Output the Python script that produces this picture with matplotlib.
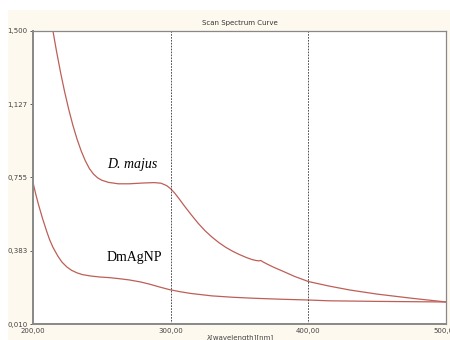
import matplotlib
matplotlib.use("Agg")
from matplotlib import pyplot as plt
from matplotlib.patches import Rectangle

# wavelength (nm) and absorbance
majus_nm = [214.5, 217, 220, 223, 226, 229, 232, 235, 238, 241, 244, 247,
            250, 255, 262, 270, 280, 288, 293, 297, 300, 303, 306, 310, 315, 320, 325, 330,
            335, 340, 345, 350, 355, 359, 362, 364, 365.5, 367, 370, 375, 380, 390, 400,
            415, 430, 450, 475, 500]
majus_abs = [1.50, 1.40, 1.29, 1.19, 1.10, 1.02, 0.95, 0.89, 0.84, 0.80, 0.772, 0.753,
             0.741, 0.73, 0.723, 0.723, 0.727, 0.729, 0.726, 0.714,
             0.698, 0.675, 0.648, 0.61, 0.565, 0.522, 0.484, 0.452, 0.424, 0.40, 0.38, 0.363,
             0.348, 0.338, 0.333, 0.331, 0.333, 0.326, 0.315, 0.298, 0.283, 0.252, 0.226,
             0.203, 0.183, 0.162, 0.141, 0.122]

agnp_nm = [200, 202, 204, 207, 210, 212, 214.5, 218, 221, 224.6, 228, 232, 236, 242, 248.5,
           255, 262, 270, 278, 285, 292, 299, 307, 315, 330, 345, 360, 380, 400, 415, 450, 500]
agnp_abs = [0.73, 0.67, 0.617, 0.545, 0.48, 0.44, 0.40, 0.356, 0.325, 0.30, 0.283, 0.27,
            0.261, 0.254, 0.249, 0.246, 0.241, 0.234, 0.224, 0.212, 0.198, 0.185, 0.174,
            0.165, 0.153, 0.146, 0.141, 0.136, 0.132, 0.128, 0.125, 0.122]

y_ticks = [0.010, 0.383, 0.755, 1.127, 1.500]
y_labels = ["0,010", "0,383", "0,755", "1,127", "1,500"]
x_ticks = [200, 300, 400, 500]
x_labels = ["200,00", "300,00", "400,00", "500,00"]

line_color = "#bd5f57"
bg_color = "#fdf9ee"

fig = plt.figure(figsize=(4.5, 3.4), dpi=100)
fig.patch.set_facecolor("white")
fig.patches.append(Rectangle((8 / 450, 0), 1, 1 - 10 / 340, transform=fig.transFigure,
                             facecolor=bg_color, edgecolor="none", zorder=-1))

ax = fig.add_axes([33 / 450, 16 / 340, 413 / 450, 293 / 340])
ax.set_facecolor("white")

ax.plot(majus_nm, majus_abs, color=line_color, linewidth=0.9)
ax.plot(agnp_nm, agnp_abs, color=line_color, linewidth=0.9)

for x in [300, 400]:
    ax.axvline(x, color="#333333", linewidth=0.6, linestyle=(0, (2, 1.5)))

ax.text(253.6, 0.82, "D. majus", family="Liberation Serif", style="italic",
        fontsize=10, va="center", ha="left")
ax.text(253.6, 0.35, "DmAgNP", family="Liberation Serif", fontsize=10,
        va="center", ha="left")

ax.set_xlim(200, 500)
ax.set_ylim(0.010, 1.500)
ax.set_xticks(x_ticks)
ax.set_xticklabels(x_labels)
ax.set_yticks(y_ticks)
ax.set_yticklabels(y_labels)
ax.tick_params(axis="both", labelsize=5, colors="#444444", length=2, width=0.6, pad=2)
ax.tick_params(axis="x", length=0, pad=3)

for side in ["left", "bottom"]:
    ax.spines[side].set_color("#888888")
    ax.spines[side].set_linewidth(1.4)
for side in ["top", "right"]:
    ax.spines[side].set_color("#888888")
    ax.spines[side].set_linewidth(0.9)

fig.text(240 / 450, 1 - 23 / 340, "Scan Spectrum Curve", fontsize=5, color="#333333",
         ha="center", va="center")
fig.text(240 / 450, 1 - 338 / 340, "λ[wavelength][nm]", fontsize=5, color="#444444",
         ha="center", va="center")

fig.savefig("out.png", dpi=100, facecolor=fig.get_facecolor())
